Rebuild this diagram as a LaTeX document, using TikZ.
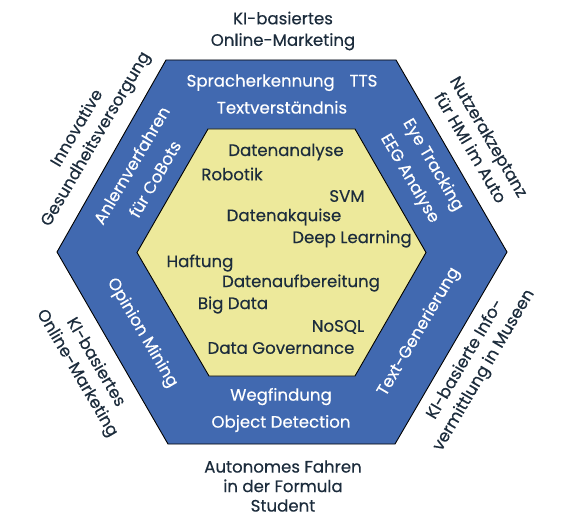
\documentclass[tikz,border=0pt]{standalone}
\usepackage{fontspec}
\setmainfont{Poppins}[FakeBold=0.35]
\definecolor{bandblue}{RGB}{65,105,176}
\definecolor{coreyellow}{RGB}{237,233,155}
\definecolor{darktext}{RGB}{28,44,60}
\begin{document}
\begin{tikzpicture}[x=1pt,y=-1pt,
  every node/.style={inner sep=0pt, outer sep=0pt},
  coretxt/.style={font=\fontsize{16.6}{18}\selectfont, text=darktext},
  bandtxt/.style={font=\fontsize{16.6}{27}\selectfont, text=white, align=center},
  outtxt/.style={font=\fontsize{16.6}{21.5}\selectfont, text=darktext, align=center},
  hexline/.style={draw=black, line width=0.9pt, line join=miter}]
\path[use as bounding box, fill=white] (0,0) rectangle (567,518);
% outer hexagon
\coordinate (O1) at (166,60);
\coordinate (O2) at (396,60);
\coordinate (O3) at (507,252);
\coordinate (O4) at (395,444);
\coordinate (O5) at (168,444);
\coordinate (O6) at (57,252);
% inner hexagon
\coordinate (I1) at (208,129);
\coordinate (I2) at (355,129);
\coordinate (I3) at (426,252.5);
\coordinate (I4) at (355,376);
\coordinate (I5) at (209,376);
\coordinate (I6) at (137,252.5);
\path[hexline, fill=bandblue] (O1) -- (O2) -- (O3) -- (O4) -- (O5) -- (O6) -- cycle;
\path[hexline, fill=coreyellow] (I1) -- (I2) -- (I3) -- (I4) -- (I5) -- (I6) -- cycle;
% core texts
\node[coretxt] (c1) at (286,152) {Datenanalyse};
\node[coretxt] (c2) at (232,174) {Robotik};
\node[coretxt] (c3) at (347,196) {SVM};
\node[coretxt] (c4) at (284,217) {Datenakquise};
\node[coretxt] (c5) at (352,239) {Deep Learning};
\node[coretxt] (c6) at (200,263) {Haftung};
\node[coretxt] (c7) at (301,283) {Datenaufbereitung};
\node[coretxt] (c8) at (233,305) {Big Data};
\node[coretxt] (c9) at (338,327) {NoSQL};
\node[coretxt] (c10) at (281,348) {Data Governance};
% band texts
\node[bandtxt] (b1) at (282,94) {Spracherkennung\hspace{0.9em}TTS\\Textverständnis};
\node[bandtxt, rotate=59.6] (b2) at (143,172) {Anlernverfahren\\für CoBots};
\node[bandtxt, rotate=-59.6] (b3) at (421,172) {Eye Tracking\\EEG Analyse};
\node[bandtxt, rotate=-59.6] (b4) at (142,333) {Opinion Mining};
\node[bandtxt, rotate=59.6] (b5) at (419,332) {Text-Generierung};
\node[bandtxt] (b6) at (281,410) {Wegfindung\\Object Detection};
% outside texts
\node[outtxt] (t1) at (283,31) {KI-basiertes\\Online-Marketing};
\node[outtxt, rotate=59.6] (t2) at (87,134) {Innovative\\Gesundheitsversorgung};
\node[outtxt, rotate=-59.6] (t3) at (480,142) {Nutzerakzeptanz\\für HMI im Auto};
\node[outtxt, rotate=-59.6] (t4) at (86,368) {KI-basiertes\\Online-Marketing};
\node[outtxt, rotate=59.6] (t5) at (475,365) {KI-basierte Info-\\vermittlung in Museen};
\node[outtxt, font=\fontsize{16.6}{19.5}\selectfont] (t6) at (283,486) {Autonomes Fahren\\in der Formula\\Student};
\end{tikzpicture}
\end{document}
